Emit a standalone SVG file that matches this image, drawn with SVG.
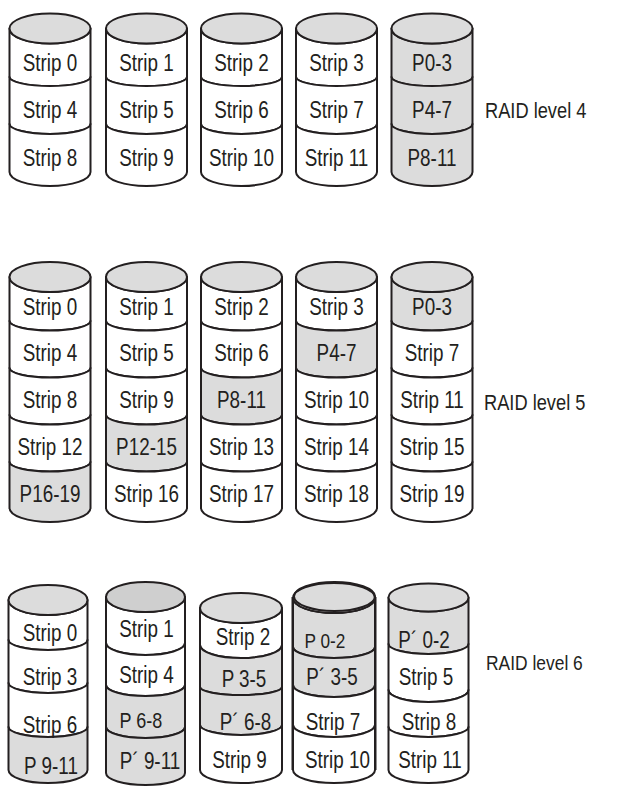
<svg xmlns="http://www.w3.org/2000/svg" xmlns:xlink="http://www.w3.org/1999/xlink" width="624" height="802" viewBox="0 0 624 802">
<style>
  .w { fill: #ffffff; }
  .g { fill: #dcdcdc; }
  .gd { fill: #cfcfcf; }
  path, ellipse, use { stroke: #231f20; stroke-width: 2; stroke-linejoin: round; }
  text { font-family: "Liberation Sans", Arial, sans-serif; font-size: 23px; fill: #231f20; text-anchor: middle; }
  text.lbl { text-anchor: start; font-size: 22px; }
  text.lbl6 { text-anchor: start; font-size: 21px; }
  text.f22 { font-size: 22px; }
  text.f21 { font-size: 21px; }
  text.f20 { font-size: 20px; }
</style>
<defs>
  <path id="r4a" d="M-40.5,28.5 A40.5,15 0 0 0 40.5,28.5 V77 A40.5,9 0 0 1 -40.5,77 Z"/>
  <path id="r4b" d="M-40.5,77 A40.5,9 0 0 0 40.5,77 V124 A40.5,10 0 0 1 -40.5,124 Z"/>
  <path id="r4c" d="M-40.5,124 A40.5,10 0 0 0 40.5,124 V172 A40.5,14 0 0 1 -40.5,172 Z"/>
  <ellipse id="r4t" cx="0" cy="28.5" rx="40.5" ry="15"/>
  <path id="r5a" d="M-40.5,277 A40.5,15 0 0 0 40.5,277 V321 A40.5,9.5 0 0 1 -40.5,321 Z"/>
  <path id="r5b" d="M-40.5,321 A40.5,9.5 0 0 0 40.5,321 V368 A40.5,9.5 0 0 1 -40.5,368 Z"/>
  <path id="r5c" d="M-40.5,368 A40.5,9.5 0 0 0 40.5,368 V415 A40.5,9.5 0 0 1 -40.5,415 Z"/>
  <path id="r5d" d="M-40.5,415 A40.5,9.5 0 0 0 40.5,415 V462 A40.5,9.5 0 0 1 -40.5,462 Z"/>
  <path id="r5e" d="M-40.5,462 A40.5,9.5 0 0 0 40.5,462 V508 A40.5,14 0 0 1 -40.5,508 Z"/>
  <ellipse id="r5t" cx="0" cy="277" rx="40.5" ry="15"/>
</defs>

<!-- RAID level 4 -->
<g id="raid4-disk1" transform="translate(50,0)">
  <use xlink:href="#r4a" class="w"/><use xlink:href="#r4b" class="w"/><use xlink:href="#r4c" class="w"/><use xlink:href="#r4t" class="g"/>
  <text transform="translate(0,71) scale(0.82,1)">Strip 0</text>
  <text transform="translate(0,118) scale(0.82,1)">Strip 4</text>
  <text transform="translate(0,166) scale(0.82,1)">Strip 8</text>
</g>
<g id="raid4-disk2" transform="translate(146.5,0)">
  <use xlink:href="#r4a" class="w"/><use xlink:href="#r4b" class="w"/><use xlink:href="#r4c" class="w"/><use xlink:href="#r4t" class="g"/>
  <text transform="translate(0,71) scale(0.82,1)">Strip 1</text>
  <text transform="translate(0,118) scale(0.82,1)">Strip 5</text>
  <text transform="translate(0,166) scale(0.82,1)">Strip 9</text>
</g>
<g id="raid4-disk3" transform="translate(241.5,0)">
  <use xlink:href="#r4a" class="w"/><use xlink:href="#r4b" class="w"/><use xlink:href="#r4c" class="w"/><use xlink:href="#r4t" class="g"/>
  <text transform="translate(0,71) scale(0.82,1)">Strip 2</text>
  <text transform="translate(0,118) scale(0.82,1)">Strip 6</text>
  <text transform="translate(0,166) scale(0.82,1)">Strip 10</text>
</g>
<g id="raid4-disk4" transform="translate(336.5,0)">
  <use xlink:href="#r4a" class="w"/><use xlink:href="#r4b" class="w"/><use xlink:href="#r4c" class="w"/><use xlink:href="#r4t" class="g"/>
  <text transform="translate(0,71) scale(0.82,1)">Strip 3</text>
  <text transform="translate(0,118) scale(0.82,1)">Strip 7</text>
  <text transform="translate(0,166) scale(0.82,1)">Strip 11</text>
</g>
<g id="raid4-disk5" transform="translate(432,0)">
  <use xlink:href="#r4a" class="g"/><use xlink:href="#r4b" class="g"/><use xlink:href="#r4c" class="g"/><use xlink:href="#r4t" class="g"/>
  <text transform="translate(0,71) scale(0.82,1)">P0-3</text>
  <text transform="translate(0,118) scale(0.82,1)">P4-7</text>
  <text transform="translate(0,166) scale(0.82,1)">P8-11</text>
</g>
<text class="lbl" transform="translate(485,117.5) scale(0.83,1)">RAID level 4</text>

<!-- RAID level 5 -->
<g id="raid5-disk1" transform="translate(50,0)">
  <use xlink:href="#r5a" class="w"/><use xlink:href="#r5b" class="w"/><use xlink:href="#r5c" class="w"/><use xlink:href="#r5d" class="w"/><use xlink:href="#r5e" class="g"/><use xlink:href="#r5t" class="g"/>
  <text transform="translate(0,315) scale(0.82,1)">Strip 0</text>
  <text transform="translate(0,361) scale(0.82,1)">Strip 4</text>
  <text transform="translate(0,408) scale(0.82,1)">Strip 8</text>
  <text transform="translate(0,455) scale(0.82,1)">Strip 12</text>
  <text transform="translate(0,502) scale(0.82,1)">P16-19</text>
</g>
<g id="raid5-disk2" transform="translate(146.5,0)">
  <use xlink:href="#r5a" class="w"/><use xlink:href="#r5b" class="w"/><use xlink:href="#r5c" class="w"/><use xlink:href="#r5d" class="g"/><use xlink:href="#r5e" class="w"/><use xlink:href="#r5t" class="g"/>
  <text transform="translate(0,315) scale(0.82,1)">Strip 1</text>
  <text transform="translate(0,361) scale(0.82,1)">Strip 5</text>
  <text transform="translate(0,408) scale(0.82,1)">Strip 9</text>
  <text transform="translate(0,455) scale(0.82,1)">P12-15</text>
  <text transform="translate(0,502) scale(0.82,1)">Strip 16</text>
</g>
<g id="raid5-disk3" transform="translate(241.5,0)">
  <use xlink:href="#r5a" class="w"/><use xlink:href="#r5b" class="w"/><use xlink:href="#r5c" class="g"/><use xlink:href="#r5d" class="w"/><use xlink:href="#r5e" class="w"/><use xlink:href="#r5t" class="g"/>
  <text transform="translate(0,315) scale(0.82,1)">Strip 2</text>
  <text transform="translate(0,361) scale(0.82,1)">Strip 6</text>
  <text transform="translate(0,408) scale(0.82,1)">P8-11</text>
  <text transform="translate(0,455) scale(0.82,1)">Strip 13</text>
  <text transform="translate(0,502) scale(0.82,1)">Strip 17</text>
</g>
<g id="raid5-disk4" transform="translate(336.5,0)">
  <use xlink:href="#r5a" class="w"/><use xlink:href="#r5b" class="g"/><use xlink:href="#r5c" class="w"/><use xlink:href="#r5d" class="w"/><use xlink:href="#r5e" class="w"/><use xlink:href="#r5t" class="g"/>
  <text transform="translate(0,315) scale(0.82,1)">Strip 3</text>
  <text transform="translate(0,361) scale(0.82,1)">P4-7</text>
  <text transform="translate(0,408) scale(0.82,1)">Strip 10</text>
  <text transform="translate(0,455) scale(0.82,1)">Strip 14</text>
  <text transform="translate(0,502) scale(0.82,1)">Strip 18</text>
</g>
<g id="raid5-disk5" transform="translate(432,0)">
  <use xlink:href="#r5a" class="g"/><use xlink:href="#r5b" class="w"/><use xlink:href="#r5c" class="w"/><use xlink:href="#r5d" class="w"/><use xlink:href="#r5e" class="w"/><use xlink:href="#r5t" class="g"/>
  <text transform="translate(0,315) scale(0.82,1)">P0-3</text>
  <text transform="translate(0,361) scale(0.82,1)">Strip 7</text>
  <text transform="translate(0,408) scale(0.82,1)">Strip 11</text>
  <text transform="translate(0,455) scale(0.82,1)">Strip 15</text>
  <text transform="translate(0,502) scale(0.82,1)">Strip 19</text>
</g>
<text class="lbl" transform="translate(484,410) scale(0.83,1)">RAID level 5</text>

<!-- RAID level 6 -->
<g id="raid6-disk1" transform="translate(48,0)">
  <path class="w" d="M-39.5,600 A39.5,15 0 0 0 39.5,600 V640 A39.5,10 0 0 1 -39.5,640 Z"/>
  <path class="w" d="M-39.5,640 A39.5,10 0 0 0 39.5,640 V683 A39.5,10 0 0 1 -39.5,683 Z"/>
  <path class="w" d="M-39.5,683 A39.5,10 0 0 0 39.5,683 V727 A39.5,10 0 0 1 -39.5,727 Z"/>
  <path class="g" d="M-39.5,727 A39.5,10 0 0 0 39.5,727 V770 A39.5,13 0 0 1 -39.5,770 Z"/>
  <ellipse class="g" cx="0" cy="600" rx="39.5" ry="15"/>
  <text transform="translate(2,641) scale(0.82,1)">Strip 0</text>
  <text transform="translate(2,685) scale(0.82,1)">Strip 3</text>
  <text transform="translate(2,733) scale(0.82,1)">Strip 6</text>
  <text transform="translate(3,774) scale(0.82,1)">P 9-11</text>
</g>
<g id="raid6-disk2" transform="translate(145.5,0)">
  <path class="w" d="M-39.5,597 A39.5,15 0 0 0 39.5,597 V643 A39.5,12 0 0 1 -39.5,643 Z"/>
  <path class="w" d="M-39.5,643 A39.5,12 0 0 0 39.5,643 V685 A39.5,11 0 0 1 -39.5,685 Z"/>
  <path class="g" d="M-39.5,685 A39.5,11 0 0 0 39.5,685 V727 A39.5,11 0 0 1 -39.5,727 Z"/>
  <path class="g" d="M-39.5,727 A39.5,11 0 0 0 39.5,727 V773 A39.5,12 0 0 1 -39.5,773 Z"/>
  <ellipse class="gd" cx="0" cy="597" rx="39.5" ry="15"/>
  <text transform="translate(1,637) scale(0.82,1)">Strip 1</text>
  <text transform="translate(1,683) scale(0.82,1)">Strip 4</text>
  <text class="f22" transform="translate(-4.5,728) scale(0.82,1)">P 6-8</text>
  <text transform="translate(4.5,769) scale(0.82,1)">P´ 9-11</text>
</g>
<g id="raid6-disk3" transform="translate(241,0)">
  <path class="w" d="M-41,608 A41,15 0 0 0 41,608 V645 A41,13 0 0 1 -41,645 Z"/>
  <path class="g" d="M-41,645 A41,13 0 0 0 41,645 V687 A41,8 0 0 1 -41,687 Z"/>
  <path class="g" d="M-41,687 A41,8 0 0 0 41,687 V725 A41,10 0 0 1 -41,725 Z"/>
  <path class="w" d="M-41,725 A41,10 0 0 0 41,725 V770 A41,13 0 0 1 -41,770 Z"/>
  <ellipse class="g" cx="0" cy="608" rx="41" ry="15"/>
  <text transform="translate(2,645) scale(0.82,1)">Strip 2</text>
  <text transform="translate(3,687) scale(0.82,1)">P 3-5</text>
  <text transform="translate(4.5,730) scale(0.82,1)">P´ 6-8</text>
  <text transform="translate(-1.5,768) scale(0.82,1)">Strip 9</text>
</g>
<g id="raid6-disk4" transform="translate(334,0)">
  <path class="g" d="M-41,598 A41,15 0 0 0 41,598 V647 A41,11 0 0 1 -41,647 Z"/>
  <path class="g" d="M-41,647 A41,11 0 0 0 41,647 V685 A41,12 0 0 1 -41,685 Z"/>
  <path class="w" d="M-41,685 A41,12 0 0 0 41,685 V725 A41,12 0 0 1 -41,725 Z"/>
  <path class="w" d="M-41,725 A41,12 0 0 0 41,725 V770 A41,13 0 0 1 -41,770 Z"/>
  <path fill="none" d="M-41.5,597 V770 M41.5,597 V770"/>
  <ellipse class="g" cx="0" cy="598" rx="41" ry="15"/>
  <ellipse fill="none" cx="0.5" cy="596.5" rx="40.5" ry="14.5"/>
  <text class="f21" transform="translate(-9,648) scale(0.82,1)">P 0-2</text>
  <text transform="translate(-2,685) scale(0.82,1)">P´ 3-5</text>
  <text transform="translate(-1,730) scale(0.82,1)">Strip 7</text>
  <text transform="translate(3.5,768) scale(0.82,1)">Strip 10</text>
</g>
<g id="raid6-disk5" transform="translate(428.5,0)">
  <path class="g" d="M-40,597.5 A40,14 0 0 0 40,597.5 V644 A40,10 0 0 1 -40,644 Z"/>
  <path class="w" d="M-40,644 A40,10 0 0 0 40,644 V690 A40,12 0 0 1 -40,690 Z"/>
  <path class="w" d="M-40,690 A40,12 0 0 0 40,690 V727 A40,10 0 0 1 -40,727 Z"/>
  <path class="w" d="M-40,727 A40,10 0 0 0 40,727 V770 A40,13 0 0 1 -40,770 Z"/>
  <ellipse class="g" cx="0" cy="597.5" rx="40" ry="14"/>
  <text transform="translate(-4.5,648) scale(0.82,1)">P´ 0-2</text>
  <text transform="translate(-2.5,685) scale(0.82,1)">Strip 5</text>
  <text transform="translate(0.5,730) scale(0.82,1)">Strip 8</text>
  <text transform="translate(1.5,768) scale(0.82,1)">Strip 11</text>
</g>
<text class="lbl6" transform="translate(486,670) scale(0.83,1)">RAID level 6</text>

<g id="connectors"></g>
</svg>
